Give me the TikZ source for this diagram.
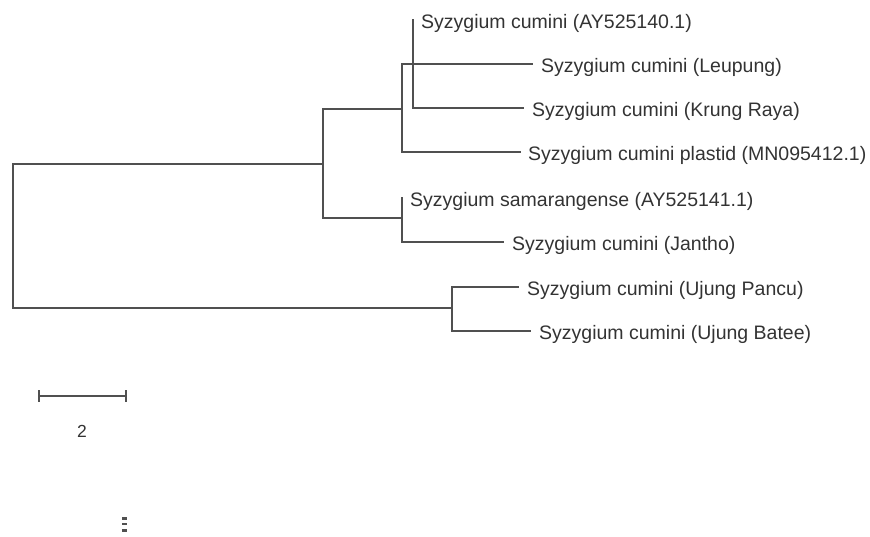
\documentclass[tikz,border=0pt]{standalone}
\usepackage{fontspec}
\setmainfont{Liberation Sans}
\definecolor{branch}{HTML}{505050}
\definecolor{labeltext}{HTML}{333333}
\begin{document}
\begin{tikzpicture}[x=1pt,y=-1pt,
  br/.style={draw=branch,line width=1.8pt,line cap=rect,line join=miter},
  leaf/.style={anchor=base west,inner sep=0pt,text=labeltext,font=\fontsize{19.5}{22}\selectfont},
  scalelabel/.style={anchor=base,inner sep=0pt,text=labeltext,font=\fontsize{17.5}{20}\selectfont}]
\useasboundingbox (0,0) rectangle (870,536);
% internal coordinates
\coordinate (rt) at (13,164);
\coordinate (rb) at (13,308);
\coordinate (a) at (323,164);
\coordinate (a1) at (323,109);
\coordinate (a2) at (323,218);
\coordinate (bm) at (402,109);
\coordinate (b1) at (402,64);
\coordinate (b2) at (402,152);
\coordinate (c1) at (413,20);
\coordinate (c2) at (413,108);
\coordinate (dm) at (402,218);
\coordinate (d1) at (402,198);
\coordinate (d2) at (402,242);
\coordinate (em) at (452,308);
\coordinate (e1) at (452,287);
\coordinate (e2) at (452,331);
% leaf tips
\coordinate (tLeu) at (532,64);
\coordinate (tKru) at (523,108);
\coordinate (tPla) at (520,152);
\coordinate (tJan) at (503,242);
\coordinate (tPan) at (518,287);
\coordinate (tBat) at (530,331);
% labels
\node[leaf] (nAY0) at (421,28) {Syzygium cumini (AY525140.1)};
\node[leaf] (nLeu) at (541,72) {Syzygium cumini (Leupung)};
\node[leaf] (nKru) at (532,116) {Syzygium cumini (Krung Raya)};
\node[leaf] (nPla) at (528,160) {Syzygium cumini plastid (MN095412.1)};
\node[leaf] (nSam) at (410,206) {Syzygium samarangense (AY525141.1)};
\node[leaf] (nJan) at (512,250) {Syzygium cumini (Jantho)};
\node[leaf] (nPan) at (527,295) {Syzygium cumini (Ujung Pancu)};
\node[leaf] (nBat) at (539,339) {Syzygium cumini (Ujung Batee)};
% branches
\draw[br] (em) -- (rb) -- (rt) -- (a);
\draw[br] (a1) -- (a2);
\draw[br] (a1) -- (bm);
\draw[br] (b1) -- (b2);
\draw[br] (b1) -- (tLeu);
\draw[br] (c1) -- (c2) -- (tKru);
\draw[br] (b2) -- (tPla);
\draw[br] (a2) -- (dm);
\draw[br] (d1) -- (d2) -- (tJan);
\draw[br] (e1) -- (e2);
\draw[br] (e1) -- (tPan);
\draw[br] (e2) -- (tBat);
% scale bar
\coordinate (s1) at (39,396);
\coordinate (s2) at (126,396);
\draw[br,line width=1.6pt] (s1) -- (s2);
\draw[br,line width=1.6pt] ([yshift=-5pt]s1) -- ([yshift=5pt]s1);
\draw[br,line width=1.6pt] ([yshift=-5pt]s2) -- ([yshift=5pt]s2);
\node[scalelabel] (sl) at (82,437) {2};
% small artifact marks
\fill[branch] (122,517) rectangle (127,519.5);
\fill[branch] (122,523) rectangle (127,525);
\fill[branch] (122,529) rectangle (127,531.5);
\end{tikzpicture}
\end{document}
